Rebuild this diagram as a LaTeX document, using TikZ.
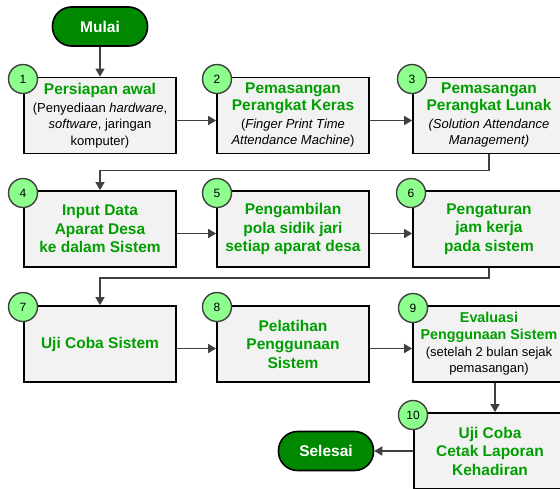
\documentclass[tikz,border=0pt]{standalone}
\usepackage{fontspec}
\setmainfont{Liberation Sans}
\usetikzlibrary{arrows.meta}
\definecolor{tgreen}{RGB}{0,158,0}
\definecolor{dgreen}{RGB}{0,136,0}
\definecolor{cgreen}{RGB}{140,255,140}
\definecolor{bfill}{RGB}{242,242,242}
\definecolor{lgray}{RGB}{64,64,64}
\begin{document}
\begin{tikzpicture}[x=1pt,y=-1pt,
  stepbox/.style={draw=black,line width=1.8pt,fill=bfill,minimum width=152pt,minimum height=76pt,inner sep=0pt,align=center,font=\fontsize{13}{16.5}\selectfont},
  boldbox/.style={stepbox,text=tgreen,font=\fontsize{15.5}{18.5}\selectfont\bfseries},
  numc/.style={circle,draw=lgray,line width=1.4pt,fill=cgreen,minimum size=29pt,inner sep=0pt,font=\fontsize{12}{12}\selectfont},
  term/.style={draw=black,line width=1.6pt,fill=dgreen,rounded corners=19pt,minimum width=95pt,minimum height=39pt,inner sep=0pt,text=white,font=\fontsize{15.5}{18}\selectfont\bfseries},
  conn/.style={draw=lgray,line width=1.6pt,-{Triangle[length=8pt,width=9pt]}}]
\useasboundingbox (0,0) rectangle (560,488);
\clip (0,0) rectangle (560,488);
\fill[white] (0,0) rectangle (560,488);

\newcommand{\tl}[1]{{\color{tgreen}\fontsize{15.5}{18.5}\selectfont\bfseries #1}}
\newcommand{\tls}[1]{{\color{tgreen}\fontsize{14.3}{17}\selectfont\bfseries #1}}

\node[term] (mulai) at (100,26.5) {Mulai};

\node[stepbox] (b1) at (100,115.5) {\tl{Persiapan awal}\\[1.5pt](Penyediaan \textit{hardware},\\\textit{software}, jaringan\\komputer)};
\node[stepbox] (b2) at (293,115.5) {\tl{Pemasangan}\\\tl{Perangkat Keras}\\[1.5pt](\textit{Finger Print Time}\\\textit{Attendance Machine})};
\node[stepbox] (b3) at (489,115.5) {\tl{Pemasangan}\\\tl{Perangkat Lunak}\\[1.5pt]\textit{(Solution Attendance}\\\textit{Management)}};

\node[boldbox] (b4) at (100,229) {Input Data\\Aparat Desa\\ke dalam Sistem};
\node[boldbox] (b5) at (293,229) {Pengambilan\\pola sidik jari\\setiap aparat desa};
\node[boldbox] (b6) at (489,229) {Pengaturan\\jam kerja\\pada sistem};

\node[boldbox] (b7) at (100,344) {Uji Coba Sistem};
\node[boldbox] (b8) at (293,344) {Pelatihan\\Penggunaan\\Sistem};
\node[stepbox] (b9) at (489,344) {\tls{Evaluasi}\\\tls{Penggunaan Sistem}\\[0.5pt](setelah 2 bulan sejak\\pemasangan)};

\node[boldbox] (b10) at (490,451) {Uji Coba\\Cetak Laporan\\Kehadiran};
\node[term] (selesai) at (326,451) {Selesai};

\node[numc] (n1) at (23,79) {1};
\node[numc] (n2) at (217,79) {2};
\node[numc] (n3) at (412,79) {3};
\node[numc] (n4) at (23,193) {4};
\node[numc] (n5) at (217,193) {5};
\node[numc] (n6) at (411,193) {6};
\node[numc] (n7) at (23,307) {7};
\node[numc] (n8) at (217,307) {8};
\node[numc] (n9) at (413,308) {9};
\node[numc] (n10) at (413,415) {10};

\draw[conn] (mulai.south) -- (b1.north);
\draw[conn] ([yshift=-5pt]b1.east) -- ([yshift=-5pt]b2.west);
\draw[conn] ([yshift=-5pt]b2.east) -- ([yshift=-5pt]b3.west);
\draw[conn] (b3.south) -- ++(0,16) -| (b4.north);
\draw[conn] ([yshift=-4.5pt]b4.east) -- ([yshift=-4.5pt]b5.west);
\draw[conn] ([yshift=-4.5pt]b5.east) -- ([yshift=-4.5pt]b6.west);
\draw[conn] (b6.south) -- ++(0,10) -| (b7.north);
\draw[conn] ([yshift=-4.5pt]b7.east) -- ([yshift=-4.5pt]b8.west);
\draw[conn] ([yshift=-4.5pt]b8.east) -- ([yshift=-4.5pt]b9.west);
\draw[conn] ([xshift=6pt]b9.south) -- ([xshift=5pt]b10.north);
\draw[conn] (b10.west) -- (selesai.east);
\end{tikzpicture}
\end{document}
